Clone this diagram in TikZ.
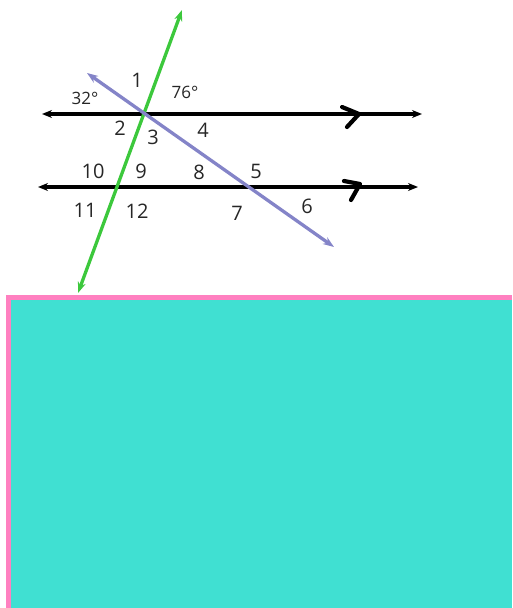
\documentclass[tikz,border=0pt]{standalone}
\usepackage{fontspec}
\setmainfont{Open Sans}
\usetikzlibrary{arrows.meta}
\definecolor{lgreen}{HTML}{3CC83C}
\definecolor{lpurple}{HTML}{8484C8}
\definecolor{pinkb}{HTML}{FF80C0}
\definecolor{tealf}{HTML}{40E0D2}
\tikzset{
  lbl/.style={font=\fontsize{20}{20}\selectfont, inner sep=0pt, text=black!85},
  deg/.style={font=\fontsize{17}{17}\selectfont, inner sep=0pt, text=black!85},
  par/.style={line width=3.3pt, black, {Stealth[length=10pt,width=8pt]}-{Stealth[length=10pt,width=8pt]}},
  trans/.style={line width=3.3pt, {Stealth[length=11pt,width=8pt]}-{Stealth[length=11pt,width=8pt]}},
  tick/.style={line width=4.2pt, black, line cap=round, line join=round}
}
\begin{document}
\begin{tikzpicture}[x=1pt,y=-1pt]
\useasboundingbox (0,0) rectangle (512,608);
% background box
\fill[pinkb] (6,295) rectangle (512,608);
\fill[tealf] (11,300) rectangle (512,608);
% coordinates
\coordinate (pL1) at (42,114);
\coordinate (pR1) at (422,114);
\coordinate (pL2) at (38,187);
\coordinate (pR2) at (418,187);
\coordinate (gT) at (182,10);
\coordinate (gB) at (78,293);
\coordinate (vT) at (87,73);
\coordinate (vB) at (334,247);
% parallel lines
\draw[par] (pL1) -- (pR1);
\draw[par] (pL2) -- (pR2);
% transversals
\draw[trans, lgreen] (gB) -- (gT);
\draw[trans, lpurple] (vT) -- (vB);
% parallel marks
\draw[tick] (342,107) -- (359,114) -- (347,127);
\draw[tick] (344,181) -- (360,184) -- (351,200);
% labels
\node[lbl] (l1) at (137,80) {1};
\node[deg] (l76) at (185,92) {76°};
\node[deg] (l32) at (85,98) {32°};
\node[lbl] (l2) at (120,128) {2};
\node[lbl] (l3) at (153,137) {3};
\node[lbl] (l4) at (203,130) {4};
\node[lbl] (l10) at (93,171) {10};
\node[lbl] (l9) at (141,171) {9};
\node[lbl] (l8) at (199,172) {8};
\node[lbl] (l5) at (256,171) {5};
\node[lbl] (l11) at (85,210) {11};
\node[lbl] (l12) at (137,211) {12};
\node[lbl] (l7) at (237,213) {7};
\node[lbl] (l6) at (307,206) {6};
\end{tikzpicture}
\end{document}
